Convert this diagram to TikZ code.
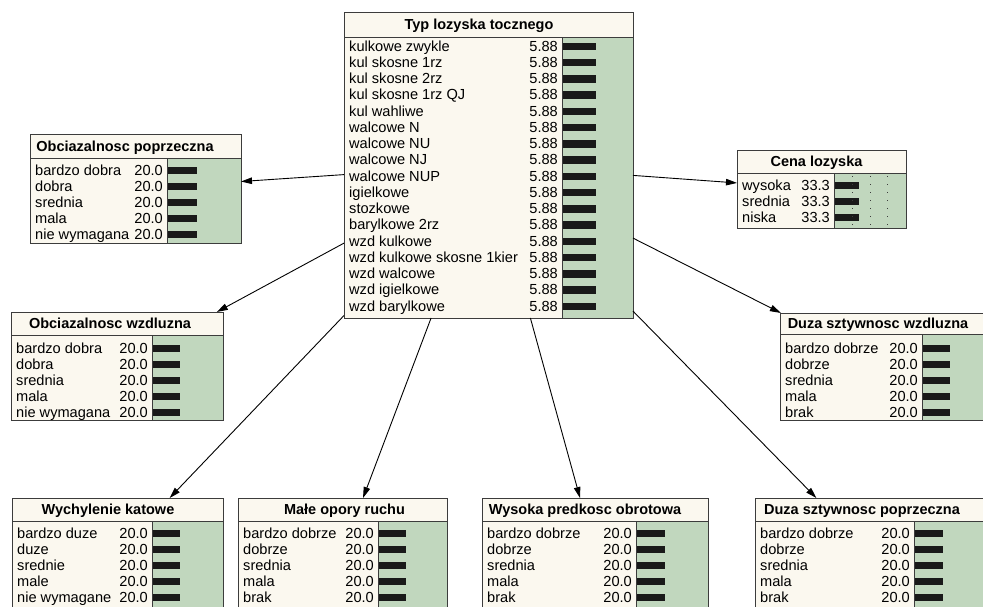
\documentclass[tikz,border=0pt]{standalone}
\usepackage{fontspec}
\setmainfont{Liberation Sans}
\usetikzlibrary{arrows.meta}

\definecolor{netcream}{RGB}{251,248,239}
\definecolor{netgreen}{RGB}{193,215,190}
\definecolor{netedge}{RGB}{60,60,60}

\tikzset{
  netfill/.style={fill=netcream, inner sep=0pt, outer sep=0pt},
  netline/.style={draw=netedge, line width=1pt},
  nettitle/.style={font=\fontsize{14.5}{16}\selectfont\bfseries, anchor=base, inner sep=0pt},
  netlabel/.style={font=\fontsize{14.6}{16}\selectfont, anchor=base west, inner sep=0pt},
  netvalue/.style={font=\fontsize{14.6}{16}\selectfont, anchor=base east, inner sep=0pt},
  netbar/.style={fill=black!90},
  netlink/.style={-{Triangle[length=11pt,width=6.5pt]}, line width=0.9pt},
}

% box: name, left/top/right/bottom/title bottom/green/bar end/title x/first row/row step, title, value, states
\newcommand{\netbox}[5]{%
  \foreach \L/\T/\R/\B/\H/\G/\E/\X/\F/\S in {#2} {
    \pgfmathsetmacro\W{\R-\L}
    \pgfmathsetmacro\D{\B-\T}
    \node[netfill, minimum width=\W pt, minimum height=\D pt] (#1) at ({(\L+\R)/2},{(\T+\B)/2}) {};
    \fill[netgreen] (\G,\H) rectangle (\R,\B);
    \draw[netline] (\L,\T) rectangle (\R,\B) (\L,\H) -- (\R,\H) (\G,\H) -- (\G,\B);
    \node[nettitle] (#1-title) at (\X,{(\T+\H)/2+5}) {#3};
    \foreach \s [count=\i] in {#5} {
      \pgfmathsetmacro\Y{\F+(\i-1)*\S}
      \node[netlabel] (#1-s\i) at (\L+5,\Y+5) {\s};
      \node[netvalue] (#1-v\i) at (\G-4,\Y+5) {#4};
      \fill[netbar] (\G+1,\Y-3.5) rectangle (\E,\Y+4);
    }
  }}

\begin{document}
\begin{tikzpicture}[x=1pt,y=-1pt]
  \useasboundingbox (0,0) rectangle (983,606);
  \clip (0,0) rectangle (983,606);
  \fill[white] (0,0) rectangle (983,606);

  \netbox{typ}{344/12/633/318/37/562/596/479/46/16.25}{Typ lozyska tocznego}{5.88}
    {kulkowe zwykle, kul skosne 1rz, kul skosne 2rz, kul skosne 1rz QJ, kul wahliwe,
     walcowe N, walcowe NU, walcowe NJ, walcowe NUP, igielkowe, stozkowe, barylkowe 2rz,
     wzd kulkowe, wzd kulkowe skosne 1kier, wzd walcowe, wzd igielkowe, wzd barylkowe}
  \netbox{obcpop}{30/134/241/243/158/167/197/125/170/16}{Obciazalnosc poprzeczna}{20.0}
    {bardzo dobra, dobra, srednia, mala, nie wymagana}
  \netbox{cena}{737/150/906/228/173/834/859/816.5/185/16}{Cena lozyska}{33.3}
    {wysoka, srednia, niska}
  \netbox{obcwzd}{11/312/223/420/335/152/180/110/348/16}{Obciazalnosc wzdluzna}{20.0}
    {bardzo dobra, dobra, srednia, mala, nie wymagana}
  \netbox{sztwzd}{780/313/993/420/334/922/950/878/348/16}{Duza sztywnosc wzdluzna}{20.0}
    {bardzo dobrze, dobrze, srednia, mala, brak}
  \netbox{wych}{12/498/223/607/521/152/180/108/533/16}{Wychylenie katowe}{20.0}
    {bardzo duze, duze, srednie, male, nie wymagane}
  \netbox{opory}{238/498/447/607/521/378/406/344.5/533/16}{Małe opory ruchu}{20.0}
    {bardzo dobrze, dobrze, srednia, mala, brak}
  \netbox{predk}{482/498/708/607/521/636/665/585/533/16}{Wysoka predkosc obrotowa}{20.0}
    {bardzo dobrze, dobrze, srednia, mala, brak}
  \netbox{sztpop}{755/498/985/607/521/914/943/862/533/16}{Duza sztywnosc poprzeczna}{20.0}
    {bardzo dobrze, dobrze, srednia, mala, brak}

  % scale marks in Cena lozyska
  \foreach \x in {852,870,887}
    \draw[netedge, line width=1pt, dash pattern=on 1pt off 7pt] (\x,176) -- (\x,226);

  \foreach \n in {obcpop,cena,obcwzd,sztwzd,wych,opory,predk,sztpop}
    \draw[netlink] (typ) -- (\n);
\end{tikzpicture}
\end{document}
